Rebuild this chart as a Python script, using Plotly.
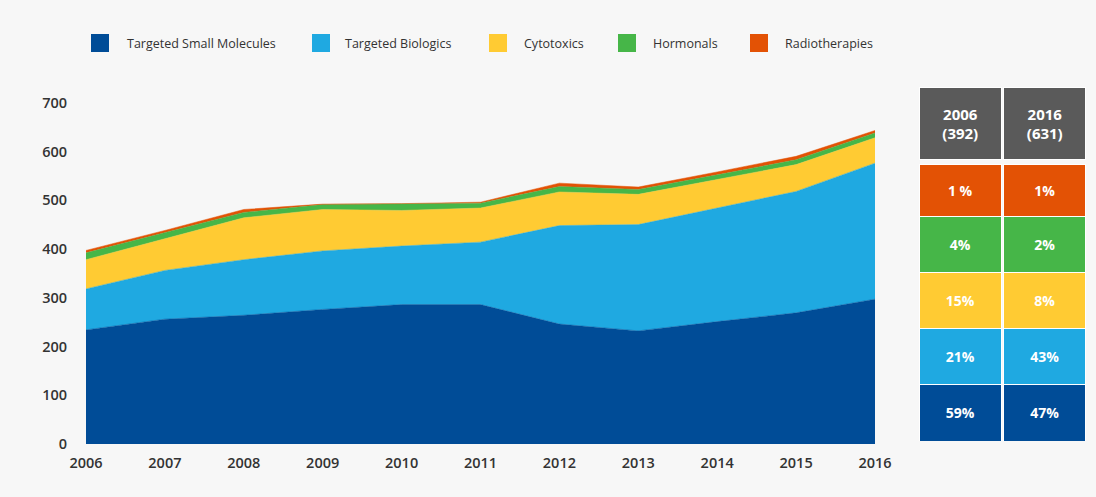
import plotly.graph_objects as go

# ---------------- data ----------------
years = list(range(2006, 2017))
small_molecules = [234, 256, 264, 276, 286, 286, 246, 232, 251, 269, 297]
biologics = [84, 100, 114, 120, 120, 128, 202, 218, 233, 249, 279]
cytotoxics = [60, 65, 86, 85, 73, 70, 69, 62, 58, 55, 52]
hormonals = [14, 12, 11, 10, 13, 10, 11, 10, 10, 10, 10]
radiotherapies = [5, 5, 6, 1, 1, 2, 7, 5, 6, 7, 5]

series_names = ["Targeted Small Molecules", "Targeted Biologics", "Cytotoxics",
                "Hormonals", "Radiotherapies"]
series_colors = ["#004c97", "#1fa9e1", "#ffcb33", "#46b648", "#e35205"]

y_ticks = [0, 100, 200, 300, 400, 500, 600, 700]

table_years = ["2006", "2016"]
table_totals = [392, 631]
pct_small = ["59%", "47%"]
pct_bio = ["21%", "43%"]
pct_cyto = ["15%", "8%"]
pct_horm = ["4%", "2%"]
pct_radio = ["1 %", "1%"]
header_color = "#5a5a5a"

# ---------------- layout helpers ----------------
W, H = 1096, 497
BG = "#f7f7f7"
FONT = "Open Sans"


def px(x):
    return x / W


def py(y):
    return 1 - y / H


fig = go.Figure()

# stacked area chart
for name, vals, col in zip(series_names,
                           [small_molecules, biologics, cytotoxics, hormonals, radiotherapies],
                           series_colors):
    fig.add_trace(go.Scatter(
        x=years, y=vals, name=name, mode="lines", stackgroup="one",
        line=dict(width=0.5, color=col), fillcolor=col,
        hoverinfo="skip", showlegend=False, xaxis="x", yaxis="y"))

# side table drawn as stacked bars on a hidden axis
rows = [
    (pct_small, series_colors[0], 1.0),
    (pct_bio, series_colors[1], 1.0),
    (pct_cyto, series_colors[2], 1.0),
    (pct_horm, series_colors[3], 1.0),
    (pct_radio, series_colors[4], 0.93),
]
for texts, col, h in rows:
    fig.add_trace(go.Bar(
        x=table_years, y=[h] * len(table_years), text=texts,
        textposition="inside", insidetextanchor="middle", textangle=0,
        textfont=dict(color="white", size=14, family=FONT, weight=700),
        marker=dict(color=col, line=dict(color="white", width=1)),
        hoverinfo="skip", showlegend=False, xaxis="x2", yaxis="y2"))
# spacer
fig.add_trace(go.Bar(
    x=table_years, y=[0.09] * len(table_years),
    marker=dict(color="rgba(0,0,0,0)", line=dict(width=0)),
    hoverinfo="skip", showlegend=False, xaxis="x2", yaxis="y2"))
# header
fig.add_trace(go.Bar(
    x=table_years, y=[1.3] * len(table_years),
    text=[f"{yr}<br>({t})" for yr, t in zip(table_years, table_totals)],
    textposition="inside", insidetextanchor="middle", textangle=0,
    textfont=dict(color="white", size=15, family=FONT, weight=700),
    marker=dict(color=header_color, line=dict(color="white", width=1)),
    hoverinfo="skip", showlegend=False, xaxis="x2", yaxis="y2"))

# manual legend
legend_square_x = [91, 312, 489, 618, 750]
legend_text_x = [125, 343, 522, 651, 783]
shapes = []
annotations = []
for name, col, sx, tx in zip(series_names, series_colors, legend_square_x, legend_text_x):
    shapes.append(dict(type="rect", xref="paper", yref="paper",
                       x0=px(sx), x1=px(sx + 18), y0=py(52), y1=py(34),
                       fillcolor=col, line=dict(width=0)))
    annotations.append(dict(text=name, xref="paper", yref="paper",
                            x=px(tx), y=py(43.5), xanchor="left", yanchor="middle",
                            showarrow=False,
                            font=dict(family=FONT, size=12.5, color="#333333")))

tickfont = dict(family=FONT, size=14.5, color="#333333", weight=600)

fig.update_layout(
    width=W, height=H,
    margin=dict(l=0, r=0, t=0, b=0),
    paper_bgcolor=BG, plot_bgcolor=BG,
    barmode="stack", bargap=0.03,
    showlegend=False,
    shapes=shapes, annotations=annotations,
    uniformtext=dict(mode=False),
    xaxis=dict(domain=[px(86), px(875)], range=[2006, 2016],
               tickvals=years, ticktext=[str(y) for y in years],
               showgrid=False, zeroline=False, showline=False, ticks="",
               tickfont=tickfont, ticklabelstandoff=8, automargin=False,
               fixedrange=True),
    yaxis=dict(domain=[py(444), py(102.7)], range=[0, 700],
               tickvals=y_ticks, showgrid=False, zeroline=False, showline=False,
               ticks="", tickfont=tickfont, ticklabelstandoff=18,
               automargin=False, fixedrange=True),
    xaxis2=dict(domain=[px(918), px(1087)], anchor="y2", type="category",
                range=[-0.5, 1.5], visible=False, fixedrange=True),
    yaxis2=dict(domain=[py(441), py(87)], anchor="x2", range=[0, 6.32],
                visible=False, fixedrange=True),
)

fig.write_html(
    "out.html",
    config={"displayModeBar": False},
    post_script=("document.body.style.margin='0';"
                 "document.body.style.overflow='hidden';"
                 "document.body.style.background='" + BG + "';"),
)
